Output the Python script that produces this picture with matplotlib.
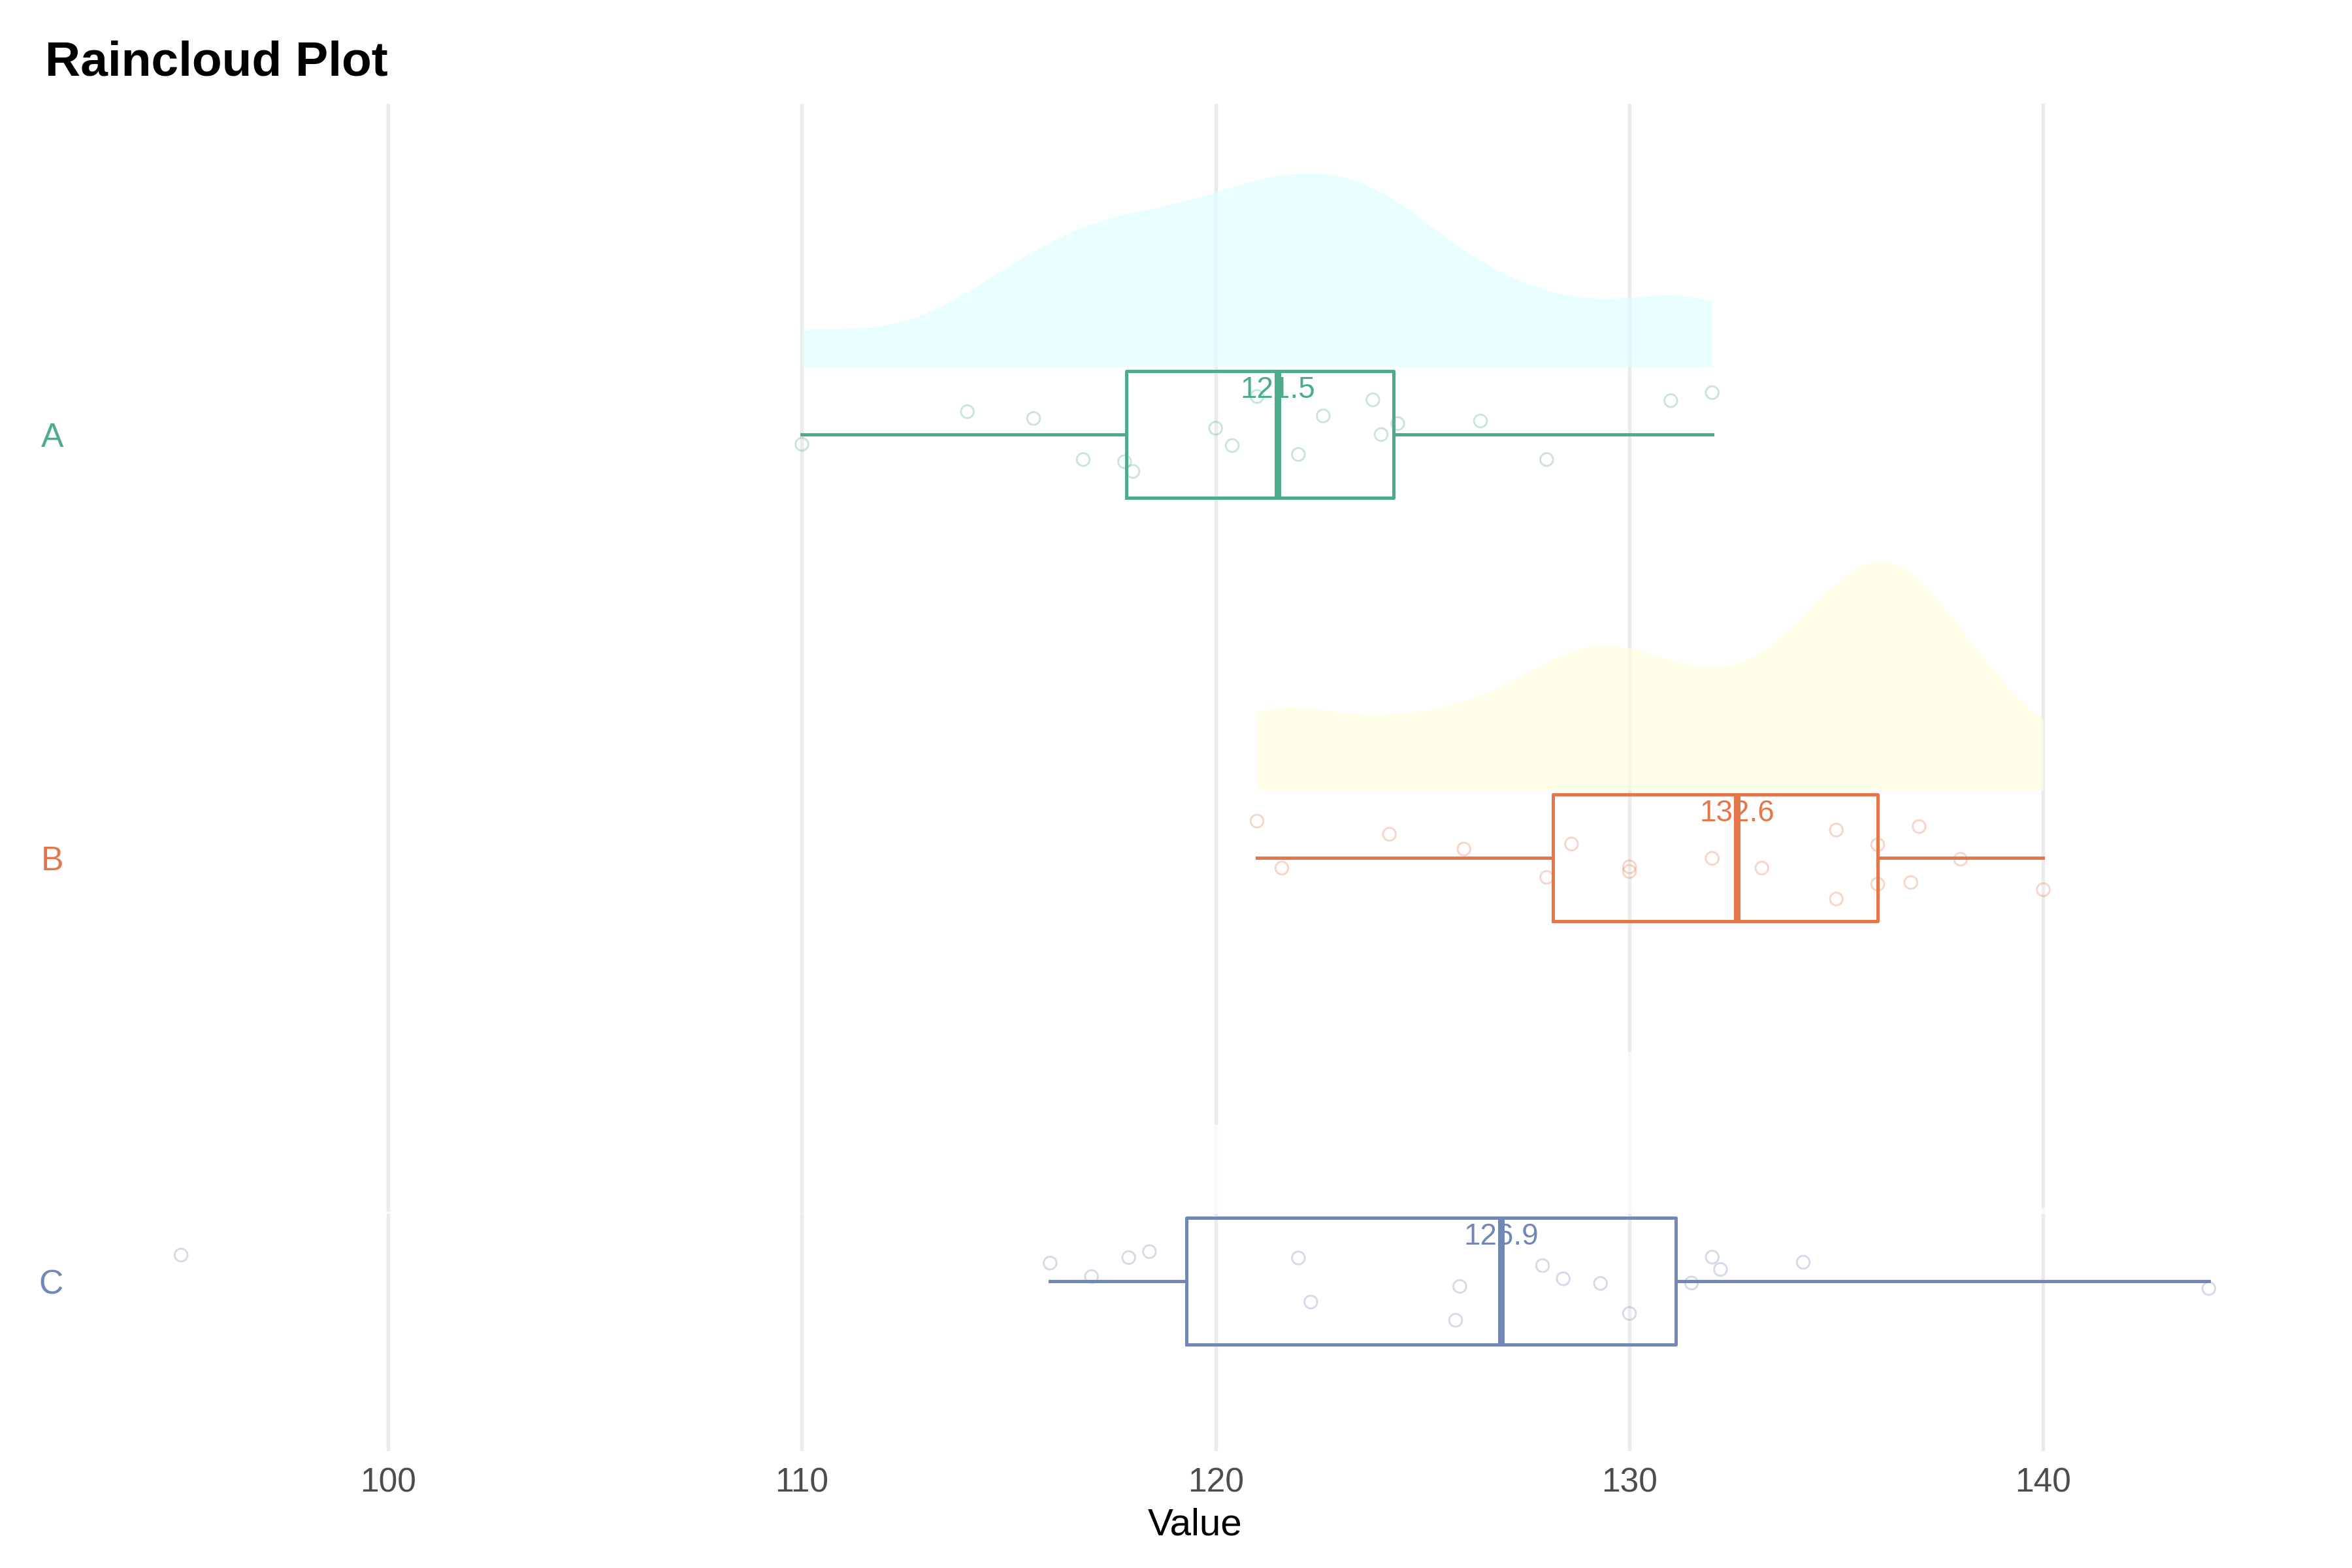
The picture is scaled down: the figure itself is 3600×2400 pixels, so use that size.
import numpy as np
import matplotlib
matplotlib.use("Agg")
import matplotlib.pyplot as plt

# data
groups = ["A", "B", "C"]
values_a = [110.0, 114.0, 115.6, 116.8, 117.8, 118.0, 120.0, 120.4, 121.0,
            122.0, 122.6, 123.8, 124.0, 124.4, 126.4, 128.0, 131.0, 132.0]
values_b = [121.0, 121.6, 124.2, 126.0, 128.0, 128.6, 130.0, 130.0, 132.0,
            133.2, 135.0, 135.0, 136.0, 136.0, 136.8, 137.0, 138.0, 140.0]
values_c = [95.0, 116.0, 117.0, 117.9, 118.4, 122.0, 122.3, 125.8, 125.9,
            127.9, 128.4, 129.3, 130.0, 131.5, 132.0, 132.2, 134.2, 144.0]
# vertical jitter of the rain points (category units, + is up)
jitter_a = [-0.023, 0.054, 0.038, -0.059, -0.064, -0.087, 0.015, -0.026, 0.090,
            -0.047, 0.044, 0.082, 0.000, 0.026, 0.032, -0.059, 0.080, 0.099]
jitter_b = [0.087, -0.024, 0.056, 0.021, -0.046, 0.033, -0.021, -0.032, -0.001,
            -0.024, 0.066, -0.097, -0.062, 0.031, -0.058, 0.074, -0.003, -0.075]
jitter_c = [0.062, 0.043, 0.011, 0.056, 0.070, 0.055, -0.049, -0.092, -0.012,
            0.037, 0.006, -0.005, -0.076, -0.004, 0.057, 0.028, 0.045, -0.017]
x_ticks = [100, 110, 120, 130, 140]

all_values = [values_a, values_b, values_c]
all_jitter = [jitter_a, jitter_b, jitter_c]
line_colors = ["#4DAC8A", "#E5764A", "#7386B8"]
cloud_colors = ["#E0FFFF", "#FFFFE0", "#FFFFFF"]
positions = [3, 2, 1]

BOX_W = 0.3
CLOUD_NUDGE = 0.16
CLOUD_MAX_H = 0.54
BW_ADJUST = 0.5
SQ2PI = np.sqrt(2 * np.pi)


def bw_sj_dpi(x):
    # Sheather-Jones direct plug-in, exact pairwise sums (like R bw.SJ)
    x = np.asarray(x, dtype=float)
    n = len(x)
    q1, q3 = np.percentile(x, [25, 75])
    scale = min(np.std(x, ddof=1), (q3 - q1) / 1.349)
    diff = x[:, None] - x[None, :]

    def sdh(h):
        d2 = (diff / h) ** 2
        s = (np.exp(-d2 / 2) * (d2 * d2 - 6 * d2 + 3)).sum()
        return s / (n * (n - 1) * h ** 5 * SQ2PI)

    def tdh(h):
        d2 = (diff / h) ** 2
        s = (np.exp(-d2 / 2) * (d2 ** 3 - 15 * d2 ** 2 + 45 * d2 - 15)).sum()
        return s / (n * (n - 1) * h ** 7 * SQ2PI)

    c1 = 1 / (2 * np.sqrt(np.pi) * n)
    b = 1.23 * scale * n ** (-1 / 9)
    td = -tdh(b)
    return (c1 / sdh((2.394 / (n * td)) ** (1 / 7))) ** 0.2


def kde(x):
    x = np.asarray(x)
    bw = bw_sj_dpi(x) * BW_ADJUST
    grid = np.linspace(x.min(), x.max(), 512)
    d = np.exp(-0.5 * ((grid[:, None] - x[None, :]) / bw) ** 2).sum(axis=1)
    return grid, d / (len(x) * bw * SQ2PI)


plt.rcParams["font.family"] = ["Liberation Sans", "DejaVu Sans"]

fig = plt.figure(figsize=(12, 8), dpi=300)
ax = fig.add_axes([122 / 3600, 179 / 2400, 3414 / 3600, 2062 / 2400])

# clouds (half densities, scaled by the global maximum)
dens = [kde(v) for v in all_values]
dmax = max(d.max() for _, d in dens)
for (grid, d), pos, fc in zip(dens, positions, cloud_colors):
    base = pos + CLOUD_NUDGE
    ax.fill_between(grid, base, base + d / dmax * CLOUD_MAX_H,
                    color=fc, alpha=0.7, linewidth=0, zorder=1)

# boxes
for vals, pos, col in zip(all_values, positions, line_colors):
    ax.boxplot(vals, positions=[pos], widths=BOX_W, orientation="horizontal",
               showfliers=False, showcaps=False, manage_ticks=False,
               boxprops=dict(color=col, linewidth=1.2),
               whiskerprops=dict(color=col, linewidth=1.2),
               medianprops=dict(color=col, linewidth=2.4),
               zorder=2)

# rain
for vals, jit, pos, col in zip(all_values, all_jitter, positions, line_colors):
    ax.scatter(vals, np.array(jit) + pos, s=22, facecolors="none",
               edgecolors=col, linewidths=0.7, alpha=0.3, zorder=3)

# median labels
for vals, pos, col in zip(all_values, positions, line_colors):
    med = np.median(vals)
    ax.text(med, pos + 0.105, f"{med:.1f}", color=col, fontsize=11,
            ha="center", va="center", zorder=4)

ax.set_xlim(92.55, 146.45)
ax.set_ylim(0.599, 3.781)
ax.set_xticks(x_ticks)
ax.set_xticklabels([str(t) for t in x_ticks])
ax.set_yticks(positions)
ax.set_yticklabels(groups)
for lab, col in zip(ax.get_yticklabels(), line_colors):
    lab.set_color(col)

ax.tick_params(axis="both", length=0, labelsize=12.4)
ax.tick_params(axis="x", colors="#4D4D4D", pad=6)
ax.tick_params(axis="y", pad=6)
ax.grid(axis="x", color="#EBEBEB", linewidth=1.3)
ax.set_axisbelow(True)
for sp in ax.spines.values():
    sp.set_visible(False)

ax.set_xlabel("Value", fontsize=14, color="black", labelpad=3)
fig.text(69 / 3600, 1 - 116 / 2400, "Raincloud Plot", fontsize=18,
         fontweight="bold", ha="left", va="baseline")

fig.savefig("out.png", dpi=300, facecolor="white")
